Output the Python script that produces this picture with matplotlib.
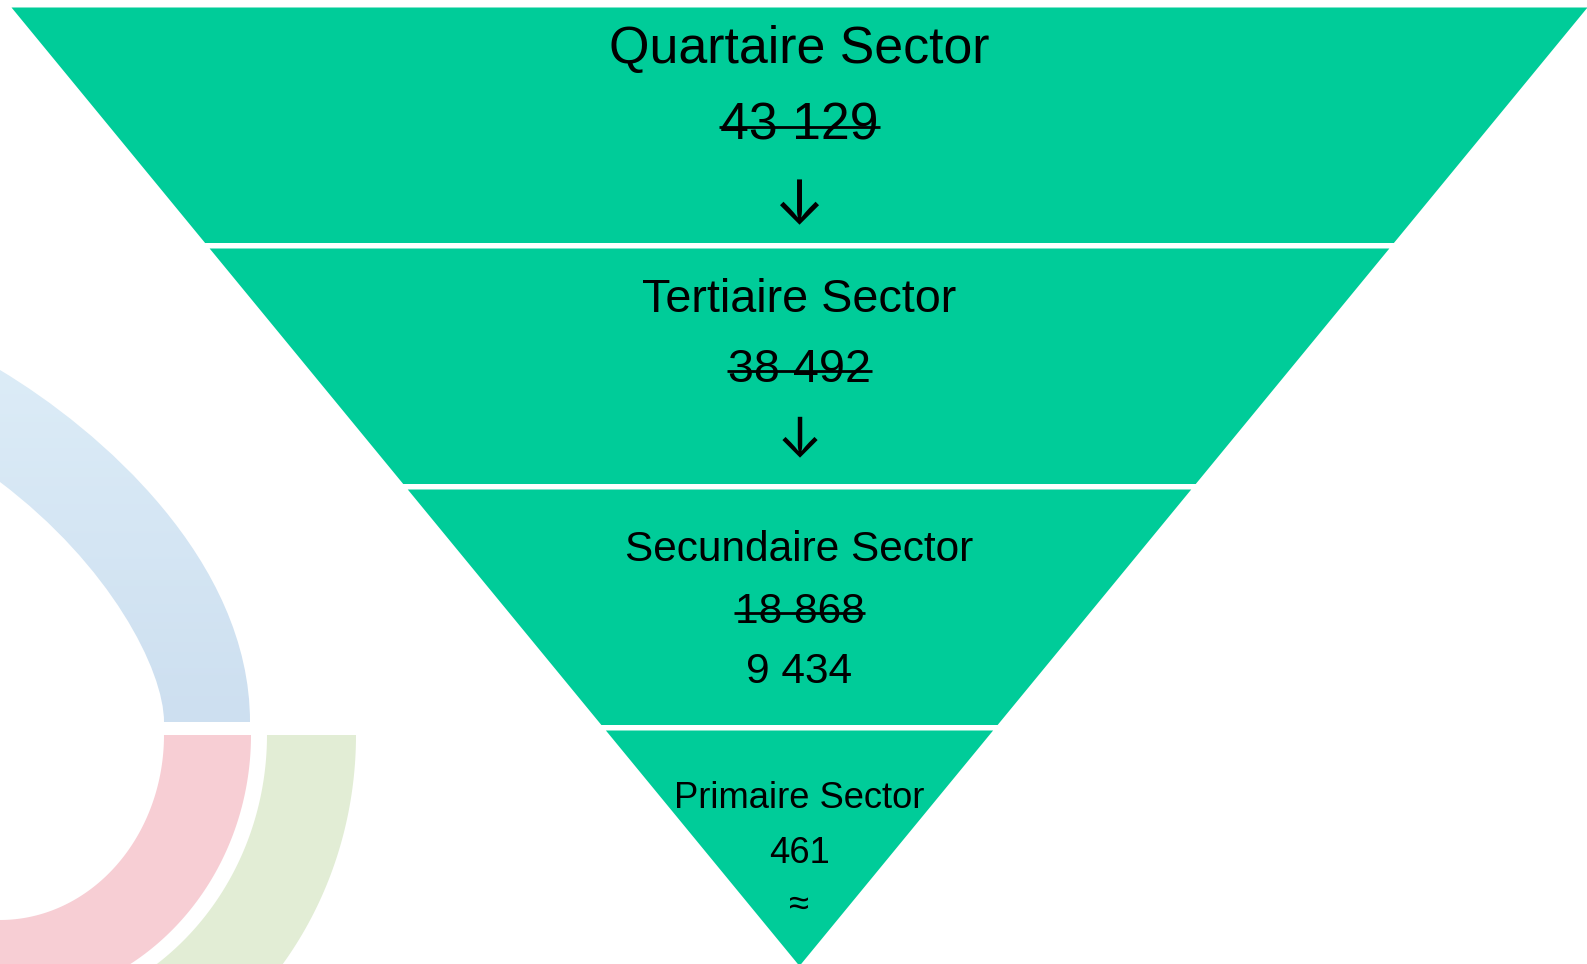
import matplotlib.pyplot as plt
import numpy as np
from matplotlib.patches import Polygon, PathPatch
from matplotlib.path import Path
from matplotlib.colors import LinearSegmentedColormap

# sector blocks, top to bottom
sectors = ["Quartaire Sector", "Tertiaire Sector", "Secundaire Sector", "Primaire Sector"]
old_counts = ["43 129", "38 492", "18 868", ""]   # crossed out
new_counts = ["", "", "9 434", "461"]
signs = ["↓", "↓", "", "≈"]

W, H = 1587, 964
green = "#00cc99"
font = ["Liberation Sans", "DejaVu Sans"]
arrow_font = ["Inter", "DejaVu Sans"]

# layout (pixels)
top_y, apex_y = 7.5, 966.0
cx, half_top = 799.5, 788.0
gap = 5.5
font_sizes = [37.4, 33.7, 30.5, 26.2]
line_y = [[63, 140, 208], [312, 382, 441], [561, 623, 683], [808, 863, 905]]

fig = plt.figure(figsize=(W / 100, H / 100), dpi=100)
ax = fig.add_axes([0, 0, 1, 1])
ax.axis("off")


def half_width(y):
    return half_top * (apex_y - y) / (apex_y - top_y)


# faded logo in the background
blue_path = Path(
    [(0, 370), (100, 430), (250, 560), (250, 722), (164, 722),
     (164, 670), (110, 565), (0, 482), (0, 370)],
    [Path.MOVETO, Path.CURVE4, Path.CURVE4, Path.CURVE4, Path.LINETO,
     Path.CURVE4, Path.CURVE4, Path.CURVE4, Path.CLOSEPOLY])
blue = PathPatch(blue_path, facecolor="none", edgecolor="none")
ax.add_patch(blue)
grad = np.linspace(0, 1, 200).reshape(-1, 1)
cmap = LinearSegmentedColormap.from_list("b", ["#dcecf7", "#cddff0"])
im = ax.imshow(grad, extent=(0, 260, 725, 365), origin="upper", cmap=cmap, aspect="auto")
im.set_clip_path(blue)

t = np.linspace(0, np.pi / 2, 100)
for (a_in, b_in, a_out, b_out, col) in [(164, 185, 251, 268, "#f7ced4"),
                                         (267, 283, 356, 377, "#e2edd5")]:
    outer = np.column_stack([a_out * np.cos(t), 735 + b_out * np.sin(t)])
    inner = np.column_stack([a_in * np.cos(t), 735 + b_in * np.sin(t)])[::-1]
    ax.add_patch(Polygon(np.vstack([outer, inner]), closed=True,
                         facecolor=col, edgecolor="none"))

# funnel blocks
n = len(sectors)
band_h = (apex_y - top_y - gap * (n - 1)) / n
struck = []
for i in range(n):
    y0 = top_y + i * (band_h + gap)
    y1 = y0 + band_h
    w0, w1 = half_width(y0), half_width(y1)
    ax.add_patch(Polygon([(cx - w0, y0), (cx + w0, y0), (cx + w1, y1), (cx - w1, y1)],
                         closed=True, facecolor=green, edgecolor="none"))

    fs = font_sizes[i]
    lines = [(sectors[i], False)]
    if old_counts[i]:
        lines.append((old_counts[i], True))
    if new_counts[i]:
        lines.append((new_counts[i], False))
    for k, (txt, strike) in enumerate(lines):
        tx = ax.text(cx, line_y[i][k], txt, ha="center", va="baseline",
                     fontsize=fs, family=font, color="black")
        if strike:
            struck.append((tx, line_y[i][k], fs))
    if signs[i] == "↓":
        ax.text(cx, line_y[i][len(lines)], signs[i], ha="center", va="center",
                fontsize=fs * 1.18, family=arrow_font, color="black")
    elif signs[i]:
        ax.text(cx, line_y[i][len(lines)], signs[i], ha="center", va="center",
                fontsize=fs, family=font, color="black")

ax.set_xlim(0, W)
ax.set_ylim(H, 0)

# strike-through lines
fig.canvas.draw()
renderer = fig.canvas.get_renderer()
inv = ax.transData.inverted()
for tx, base, fs in struck:
    bb = tx.get_window_extent(renderer).transformed(inv)
    ys = base - 0.245 * fs * 100 / 72
    ax.plot([bb.x0 - 1, bb.x1 + 1], [ys, ys], color="black", lw=2.0,
            solid_capstyle="butt")

fig.savefig("out.png", dpi=100, facecolor="white")
